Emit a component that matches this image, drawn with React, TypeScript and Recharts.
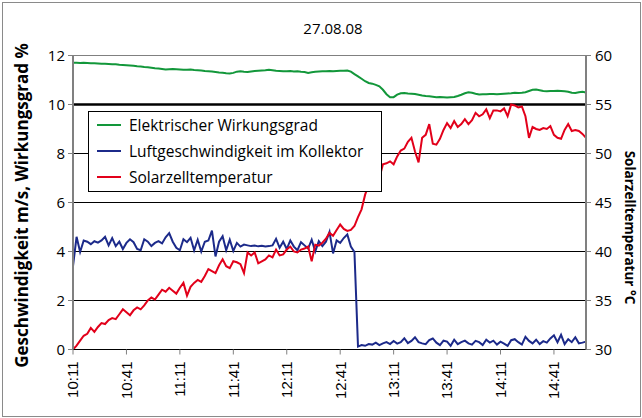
import React from "react";
import {
  LineChart,
  Line,
  XAxis,
  YAxis,
  CartesianGrid,
  ReferenceLine,
  Label,
} from "recharts";

// Messwerte alle 2 Minuten ab 10:11
const START_MIN = 10 * 60 + 11;
const STEP_MIN = 2;

const WIRKUNGSGRAD = [
  11.70, 11.70, 11.69, 11.70, 11.69, 11.68, 11.68, 11.67, 11.66,
  11.66, 11.65, 11.64, 11.64, 11.62, 11.61, 11.60, 11.59, 11.58, 11.56,
  11.55, 11.53, 11.52, 11.50, 11.48, 11.47, 11.45, 11.43,
  11.44, 11.45, 11.44, 11.43, 11.42, 11.42, 11.43, 11.41, 11.40,
  11.39, 11.37, 11.36, 11.35, 11.33, 11.31, 11.30, 11.28, 11.27,
  11.29, 11.34, 11.36, 11.34, 11.33,
  11.35, 11.37, 11.38, 11.39, 11.40, 11.42, 11.40, 11.38, 11.37, 11.36,
  11.36, 11.37, 11.35, 11.36, 11.34, 11.33, 11.29, 11.32, 11.34, 11.35,
  11.36, 11.36, 11.37, 11.36, 11.37, 11.38, 11.38, 11.39, 11.34, 11.24,
  11.15, 11.05, 10.95, 10.88, 10.85, 10.80, 10.74, 10.60, 10.42, 10.30,
  10.30, 10.40, 10.46, 10.47, 10.45, 10.44, 10.43, 10.40, 10.37, 10.35,
  10.34, 10.32, 10.30, 10.31, 10.30, 10.29, 10.30, 10.31, 10.35, 10.40,
  10.46, 10.50, 10.48, 10.44, 10.41, 10.42, 10.42, 10.43, 10.43, 10.42,
  10.43, 10.44, 10.45, 10.46, 10.48, 10.47, 10.48, 10.50, 10.55, 10.60,
  10.61, 10.58, 10.55, 10.54, 10.55, 10.55, 10.56, 10.55, 10.54, 10.52,
  10.48, 10.47, 10.50, 10.52, 10.49,
];

const LUFTGESCHWINDIGKEIT = [
  3.40, 4.60, 3.98, 4.45, 4.40, 4.30, 4.42, 4.36, 4.45, 4.60,
  4.25, 4.55, 4.22, 4.40, 4.10, 4.35, 4.50, 4.38, 4.10, 4.05,
  4.50, 4.40, 4.22, 4.35, 4.42, 4.33, 4.58, 4.75, 4.40, 4.15,
  4.05, 4.50, 4.38, 4.56, 4.05, 4.48, 4.00, 4.40, 4.45, 4.85,
  3.80, 4.40, 4.62, 4.05, 4.48, 4.02, 4.35, 4.20, 4.28, 4.25,
  4.22, 4.24, 4.21, 4.23, 4.20, 4.22, 4.25, 4.52, 4.15, 4.40,
  4.10, 4.45, 4.20, 4.05, 4.38, 4.25, 4.12, 4.48, 4.00, 4.42,
  4.22, 4.40, 4.80, 3.92, 4.45, 4.35, 4.55, 4.70, 4.20, 3.98,
  0.12, 0.18, 0.15, 0.22, 0.20, 0.28, 0.18, 0.25, 0.30, 0.22,
  0.35, 0.24, 0.30, 0.46, 0.26, 0.35, 0.50, 0.30, 0.25, 0.22,
  0.38, 0.45, 0.28, 0.18, 0.36, 0.32, 0.15, 0.40, 0.22, 0.30,
  0.36, 0.25, 0.20, 0.35, 0.30, 0.18, 0.40, 0.28, 0.36, 0.20,
  0.32, 0.24, 0.15, 0.38, 0.42, 0.30, 0.20, 0.52, 0.35, 0.25,
  0.40, 0.22, 0.34, 0.28, 0.45, 0.58, 0.30, 0.60, 0.22, 0.42,
  0.30, 0.50, 0.25, 0.28, 0.32,
];

const SOLARZELLTEMPERATUR = [
  30.0, 30.4, 30.9, 31.4, 31.6, 32.2, 31.8, 32.3, 32.7, 32.6,
  33.0, 33.2, 33.1, 33.6, 34.1, 33.8, 33.5, 34.0, 34.3, 34.1,
  34.5, 35.0, 35.3, 35.1, 35.6, 36.1, 35.9, 36.3, 36.0, 35.7,
  36.3, 36.8, 35.5, 36.4, 36.8, 37.1, 36.9, 37.5, 38.2, 38.0,
  37.8, 38.6, 39.2, 38.5, 38.3, 39.0, 38.9, 38.7, 37.8, 39.9,
  39.6, 39.9, 38.8, 39.0, 39.2, 39.6, 39.4, 40.2, 39.6, 39.7,
  40.2, 40.5, 40.0, 39.9, 40.2, 40.3, 40.5, 39.0, 40.7, 40.6,
  40.9, 41.3, 41.9, 41.6, 42.2, 42.75, 42.3, 42.1, 42.2, 42.6,
  43.5, 44.3, 45.8, 46.8, 47.2, 47.0, 47.5, 48.9, 49.0, 49.2,
  48.9, 49.7, 50.3, 50.5, 51.2, 51.6, 50.2, 49.1, 51.6, 51.9,
  53.0, 51.0, 50.9, 51.5, 52.4, 53.1, 52.6, 53.3, 52.7, 53.0,
  53.5, 53.0, 53.4, 54.15, 53.8, 54.0, 54.5, 53.6, 54.4, 54.4,
  54.3, 54.6, 53.8, 55.0, 54.9, 54.7, 54.8, 53.8, 51.6, 52.7,
  52.5, 52.4, 52.6, 52.5, 52.8, 51.9, 51.6, 51.5, 52.4, 53.0,
  52.3, 52.4, 52.3, 52.0, 51.6,
];

const LEFT_TICKS = [0, 2, 4, 6, 8, 10, 12];
const RIGHT_TICKS = [30, 35, 40, 45, 50, 55, 60];

const GREEN = "#12973a";
const BLUE = "#1c2a8a";
const RED = "#e2001a";
const AXIS_GRAY = "#808080";
const FONT = "'Open Sans', sans-serif";

const toClock = (m: number) => `${Math.floor(m / 60)}:${String(m % 60).padStart(2, "0")}`;

const chartData = WIRKUNGSGRAD.map((w, i) => ({
  time: toClock(START_MIN + i * STEP_MIN),
  wirkungsgrad: w,
  luft: LUFTGESCHWINDIGKEIT[i],
  temp: SOLARZELLTEMPERATUR[i],
}));

const TimeTick = ({ x, y, payload }: any) => (
  <text
    x={x}
    y={y}
    transform={`rotate(-90 ${x} ${y})`}
    textAnchor="end"
    dy="0.36em"
    fontSize={15}
    fontFamily="'Liberation Sans', Arial, sans-serif"
    fill="#000"
  >
    {payload.value}
  </text>
);

// rotated axis titles, placed relative to the axis box
const LeftTitle = ({ viewBox }: any) => {
  const x = 22;
  const y = viewBox.y + viewBox.height / 2 + 3;
  return (
    <text
      x={x}
      y={y}
      transform={`rotate(-90 ${x} ${y})`}
      textAnchor="middle"
      dy="0.36em"
      fontSize={17}
      fontWeight={700}
      fontFamily={FONT}
      fill="#000"
    >
      Geschwindigkeit m/s, Wirkungsgrad %
    </text>
  );
};

const RightTitle = ({ viewBox }: any) => {
  const x = viewBox.x + 44;
  const y = viewBox.y + viewBox.height / 2 + 25;
  return (
    <text
      x={x}
      y={y}
      transform={`rotate(90 ${x} ${y})`}
      textAnchor="middle"
      dy="0.36em"
      fontSize={13.5}
      fontWeight={700}
      fontFamily={FONT}
      fill="#000"
    >
      Solarzelltemperatur °C
    </text>
  );
};

const legendItems = [
  { name: "Elektrischer Wirkungsgrad", color: GREEN },
  { name: "Luftgeschwindigkeit im Kollektor", color: BLUE },
  { name: "Solarzelltemperatur", color: RED },
];

export default function App() {
  return (
    <div style={{ position: "absolute", left: 0, top: 0, width: 642, height: 418, background: "#fff" }}>
      <div
        style={{
          position: "absolute",
          left: 2,
          top: 2,
          width: 637,
          height: 413,
          border: "1px solid #8a8a8a",
          pointerEvents: "none",
        }}
      />
      <div
        style={{
          position: "absolute",
          left: 0,
          width: 642,
          top: 18,
          textAlign: "center",
          paddingLeft: 24,
          boxSizing: "border-box",
          fontFamily: FONT,
          fontSize: 15,
        }}
      >
        27.08.08
      </div>
      <LineChart
        width={642}
        height={418}
        data={chartData}
        margin={{ top: 55.5, right: 0, bottom: 0, left: 0 }}
      >
        <CartesianGrid stroke="#000" vertical={false} yAxisId="left" />
        <XAxis
          dataKey="time"
          interval={14}
          height={68.5}
          tick={<TimeTick />}
          tickSize={5}
          tickMargin={7}
          axisLine={{ stroke: "#000" }}
          tickLine={{ stroke: AXIS_GRAY }}
        />
        <YAxis
          yAxisId="left"
          domain={[0, 12]}
          ticks={LEFT_TICKS}
          width={73}
          tickSize={5}
          tickMargin={3}
          axisLine={{ stroke: AXIS_GRAY, strokeWidth: 2 }}
          tickLine={{ stroke: AXIS_GRAY }}
          tick={{ fill: "#000", fontSize: 15, fontFamily: FONT }}
        >
          <Label content={<LeftTitle />} />
        </YAxis>
        <YAxis
          yAxisId="right"
          orientation="right"
          domain={[30, 60]}
          ticks={RIGHT_TICKS}
          width={56}
          tickSize={5}
          tickMargin={4}
          axisLine={{ stroke: AXIS_GRAY, strokeWidth: 2 }}
          tickLine={{ stroke: AXIS_GRAY }}
          tick={{ fill: "#000", fontSize: 15, fontFamily: FONT }}
        >
          <Label content={<RightTitle />} />
        </YAxis>
        <ReferenceLine yAxisId="left" y={12} stroke={AXIS_GRAY} strokeWidth={1} />
        <ReferenceLine yAxisId="left" y={10} stroke="#000" strokeWidth={2.5} />
        <Line
          yAxisId="left"
          dataKey="wirkungsgrad"
          stroke={GREEN}
          strokeWidth={2}
          dot={false}
          isAnimationActive={false}
        />
        <Line
          yAxisId="left"
          dataKey="luft"
          stroke={BLUE}
          strokeWidth={2}
          dot={false}
          isAnimationActive={false}
        />
        <Line
          yAxisId="right"
          dataKey="temp"
          stroke={RED}
          strokeWidth={2}
          dot={false}
          isAnimationActive={false}
        />
      </LineChart>
      {/* Legende */}
      <div
        style={{
          position: "absolute",
          left: 88,
          top: 111,
          width: 294,
          height: 81,
          border: "1px solid #000",
          background: "#fff",
          boxSizing: "border-box",
          fontFamily: FONT,
          fontSize: 15.5,
          paddingTop: 0,
        }}
      >
        {legendItems.map((item) => (
          <div key={item.name} style={{ display: "flex", alignItems: "center", height: 26 }}>
            <span
              style={{ display: "inline-block", width: 24, height: 2, background: item.color, marginLeft: 8, marginRight: 8 }}
            />
            <span>{item.name}</span>
          </div>
        ))}
      </div>
    </div>
  );
}
